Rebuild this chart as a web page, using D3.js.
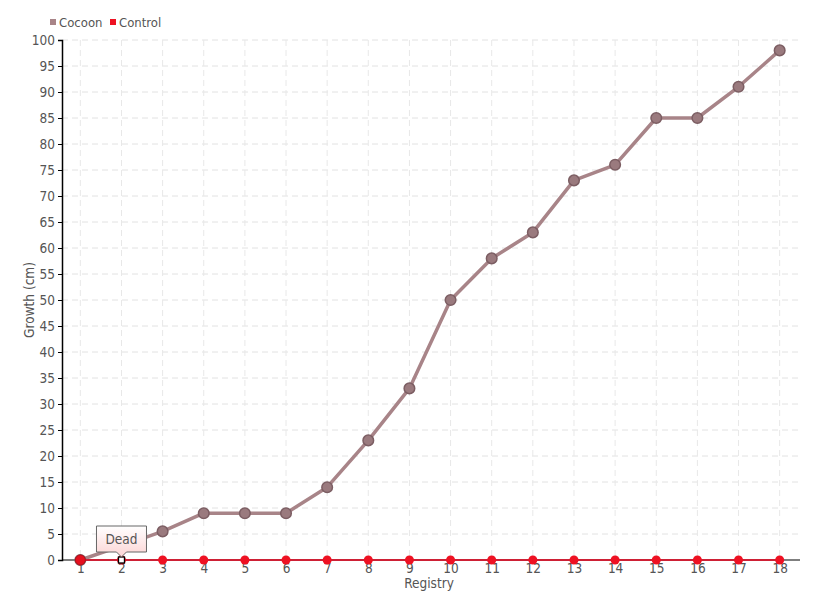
<!DOCTYPE html>
<html><head><meta charset="utf-8">
<script src="https://cdn.jsdelivr.net/npm/d3@7"></script>
<style>
body{margin:0;background:#fff;}
text{font-family:"DejaVu Sans Condensed",sans-serif;fill:#555;}
</style></head>
<body><svg id="c" width="820" height="600"></svg>
<script>
const categories = ["1","2","3","4","5","6","7","8","9","10","11","12","13","14","15","16","17","18"];
const cocoon = [0,2.7,5.5,9,9,9,14,23,33,50,58,63,73,76,85,85,91,98];
const control = [0,0,0,0,0,0,0,0,0,0,0,0,0,0,0,0,0,0];
const yTicks = d3.range(0,101,5);
const seriesNames = ["Cocoon","Control"];
const tooltipText = "Dead";
const tooltipIndex = 1;

const svg = d3.select("#c");
const L=62,R=800,T=40,B=560;
const x = d3.scalePoint().domain(categories).range([L-1,R-1]).padding(0.47);
const y = d3.scaleLinear().domain([0,100]).range([B,T]);

// grid
const g = svg.append("g");
g.selectAll(".hg").data(yTicks.filter(d=>d>0)).join("line")
 .attr("x1",L).attr("x2",R).attr("y1",d=>y(d)).attr("y2",d=>y(d))
 .attr("stroke","#e2e2e2").attr("stroke-dasharray","6,4");
g.selectAll(".vg").data(categories).join("line")
 .attr("x1",d=>x(d)).attr("x2",d=>x(d)).attr("y1",T).attr("y2",B)
 .attr("stroke","#e8e8e8").attr("stroke-dasharray","6,4");

// axes
const yAxis = svg.append("g").attr("transform",`translate(${L},0)`)
 .call(d3.axisLeft(y).tickValues(yTicks).tickSize(4).tickPadding(3));
yAxis.select(".domain").attr("stroke","#000").attr("stroke-width",1.5);
yAxis.selectAll(".tick line").attr("stroke","#000");
yAxis.selectAll("text").style("font-size","13.5px").attr("fill","#555");

const xAxis = svg.append("g").attr("transform",`translate(0,${B})`)
 .call(d3.axisBottom(x).tickSize(0).tickPadding(3));
xAxis.select(".domain").attr("stroke","#000").attr("stroke-width",1.2).attr("d",`M${L},0H${R}`);
xAxis.selectAll("text").style("font-size","13.5px").attr("fill","#555");

// titles
svg.append("text").attr("transform",`translate(34,${(T+B)/2}) rotate(-90)`)
 .attr("text-anchor","middle").style("font-size","13.5px").text("Growth (cm)");
svg.append("text").attr("x",(L+R)/2-2).attr("y",588).attr("text-anchor","middle")
 .style("font-size","13.5px").text("Registry");

// Cocoon line
const line = d3.line().x((d,i)=>x(categories[i])).y(d=>y(d));
svg.append("path").datum(cocoon).attr("d",line).attr("fill","none")
 .attr("stroke","#a88488").attr("stroke-width",3.5).attr("stroke-linejoin","round");
svg.selectAll(".cp").data(cocoon).join("circle")
 .attr("cx",(d,i)=>x(categories[i])).attr("cy",d=>y(d)).attr("r",5.3)
 .attr("fill","#9a7a7e").attr("stroke","#7c5e63").attr("stroke-width",1.5);

// Control line
svg.append("path").datum(control).attr("d",line).attr("fill","none")
 .attr("stroke","#e8001c").attr("stroke-width",1.5);
svg.selectAll(".rp").data(control).join("circle")
 .attr("cx",(d,i)=>x(categories[i])).attr("cy",d=>y(d)).attr("r",4.5)
 .attr("fill","#ee1122");
svg.append("circle").attr("cx",x(categories[0])).attr("cy",y(control[0])).attr("r",5)
 .attr("fill","#e5101e").attr("stroke","#b0101a").attr("stroke-width",1);

// highlighted marker
const hx = x(categories[tooltipIndex]), hy = y(control[tooltipIndex]);
svg.append("rect").attr("x",hx-3).attr("y",hy-3).attr("width",6).attr("height",6)
 .attr("fill","#fff").attr("stroke","#000").attr("stroke-width",1.3);

// tooltip
const defs = svg.append("defs");
const gr = defs.append("linearGradient").attr("id","tg").attr("x1",0).attr("y1",0).attr("x2",0).attr("y2",1);
gr.append("stop").attr("offset","0%").attr("stop-color","#ffffff");
gr.append("stop").attr("offset","100%").attr("stop-color","#fcd4d4");
const tw=50,th=26, tx=hx-25, ty=hy-34;
svg.append("path")
 .attr("d",`M${tx},${ty}H${tx+tw}V${ty+th}H${hx+5}L${hx},${ty+th+5}L${hx-5},${ty+th}H${tx}Z`)
 .attr("fill","url(#tg)").attr("stroke","#666").attr("stroke-width",1);
svg.append("text").attr("x",tx+tw/2).attr("y",ty+18).attr("text-anchor","middle")
 .style("font-size","13.5px").text(tooltipText);

// legend
const leg = svg.append("g");
const legColors = ["#a88488","#ee1122"];
const lx=[50,110];
seriesNames.forEach((n,i)=>{
  leg.append("rect").attr("x",lx[i]).attr("y",19).attr("width",6).attr("height",6).attr("fill",legColors[i]);
  leg.append("text").attr("x",lx[i]+9).attr("y",27).style("font-size","13px").text(n);
});
</script></body></html>
